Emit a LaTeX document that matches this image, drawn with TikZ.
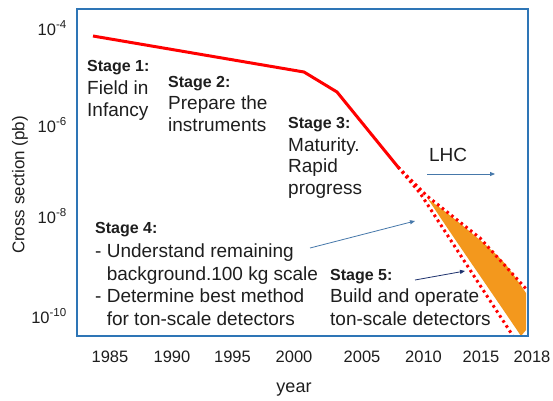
\documentclass[tikz,border=0pt]{standalone}
\usepackage{fontspec}
\setmainfont{Liberation Sans}
\usetikzlibrary{arrows.meta,positioning}
\definecolor{frameblue}{RGB}{46,117,182}
\definecolor{bandorange}{RGB}{243,152,29}
\definecolor{noteblue}{RGB}{70,120,170}
\definecolor{notenavy}{RGB}{30,50,110}
\definecolor{ink}{RGB}{30,30,30}

\begin{document}
\begin{tikzpicture}[x=1pt,y=-1pt,
    head/.style={anchor=base west,inner sep=0pt,text=ink,font=\fontsize{16}{19}\selectfont\bfseries},
    body/.style={anchor=base west,inner sep=0pt,align=left,text=ink,font=\fontsize{19}{21.5}\selectfont},
    tick/.style={anchor=base,inner sep=0pt,text=ink,font=\fontsize{16.5}{19}\selectfont},
    trend/.style={red,line width=3pt,line join=round},
    reach/.style={red,line width=3pt,dash pattern=on 2.6pt off 3.4pt},
    note/.style={-{Triangle[length=5pt,width=4pt]},line width=0.8pt}]
\useasboundingbox (0,0) rectangle (553,400);
\fill[white] (0,0) rectangle (553,400);

\fill[bandorange] (428,199) .. controls (450,215) .. (480,240)
    .. controls (505,262) .. (526,293) -- (526,330) -- (521,336)
    .. controls (490,290) and (455,240) .. cycle;

\coordinate (c1) at (93,36);
\coordinate (c2) at (304,72);
\coordinate (c3) at (337,92);
\coordinate (c4) at (398,167);
\coordinate (up1) at (427,196);
\coordinate (up2) at (480,238);
\coordinate (up3) at (528,291);
\coordinate (lo1) at (420,193);
\coordinate (lo2) at (513,336);
\draw[reach] (c4) -- (up1) -- (up2) -- (up3);
\draw[reach] (c4) -- (lo1) -- (lo2);
\draw[trend] (c1) -- (c2) -- (c3) -- (c4);

\draw[frameblue,line width=1.5pt] (77,9) rectangle (528,336);

% multi-line bodies sit on the baseline of their last line
\path
    (87,71.5) node [head] (stage1) {Stage 1:}
    +(0,44.5) node [body] (field) {Field in\\Infancy};
\path
    (168,87) node [head] (stage2) {Stage 2:}
    +(0,44) node [body] (prepare) {Prepare the\\instruments};
\path
    (288,128) node [head] (stage3) {Stage 3:}
    +(0,66) node [body] (mature) {Maturity.\\Rapid\\progress};
\path
    (95,233.5) node [head] (stage4) {Stage 4:}
    +(0,91.5) node [body,font=\fontsize{19}{22.5}\selectfont] (bgnd)
    {- Understand remaining\\\phantom{- }background.100 kg scale\\- Determine best method\\\phantom{- }for ton-scale detectors};
\path
    (330,280) node [head] (stage5) {Stage 5:}
    +(0,45) node [body,font=\fontsize{19}{22.5}\selectfont] (build)
    {Build and operate\\ton-scale detectors};
\node [body,anchor=base] (lhc) at (448,161) {LHC};

\coordinate (lhcA) at (427,174);
\coordinate (lhcB) at (495,174);
\coordinate (bgA) at (310,248);
\coordinate (bgB) at (415,221);
\coordinate (tonA) at (415,280);
\coordinate (tonB) at (465,271);
\draw[note,noteblue] (lhcA) -- (lhcB);
\draw[note,noteblue] (bgA) -- (bgB);
\draw[note,notenavy] (tonA) -- (tonB);

\path
    (67,35) node [tick,anchor=base east] (e4) {10\textsuperscript{-4}}
    (67,132) node [tick,anchor=base east] (e6) {10\textsuperscript{-6}}
    (67,223) node [tick,anchor=base east] (e8) {10\textsuperscript{-8}}
    (67,323) node [tick,anchor=base east] (e10) {10\textsuperscript{-10}};
\path
    (110,362) node [tick] (y85) {1985}
    (172,362) node [tick] (y90) {1990}
    (232.5,362) node [tick] (y95) {1995}
    (294,362) node [tick] (y00) {2000}
    (362,362) node [tick] (y05) {2005}
    (423.5,362) node [tick] (y10) {2010}
    (481,362) node [tick] (y15) {2015}
    (532,362) node [tick] (y18) {2018};
\node [tick,font=\fontsize{18}{20}\selectfont] (year) at (294,392) {year};
\node [rotate=90,text=ink,font=\fontsize{17}{20}\selectfont] (xsec) at (20,185) {Cross section (pb)};
\end{tikzpicture}
\end{document}
